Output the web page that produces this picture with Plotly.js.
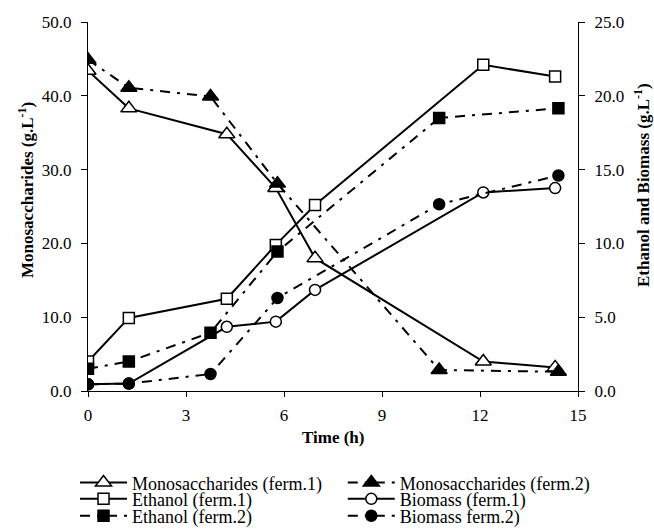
<!DOCTYPE html>
<html>
<head>
<meta charset="utf-8">
<script src="https://cdn.plot.ly/plotly-3.0.1.min.js"></script>
<style>html,body{margin:0;padding:0;background:#fff;}#chart{width:654px;height:532px;}</style>
</head>
<body>
<div id="chart"></div>
<script>
// Time points (h)
var timeFerm1 = [0, 1.25, 4.25, 5.75, 6.95, 12.1, 14.3];
var timeFerm2 = [0, 1.25, 3.75, 5.8, 10.75, 14.4];
// Monosaccharides (g/L, left axis)
var monoFerm1 = [43.4, 38.3, 34.8, 27.5, 18.0, 4.0, 3.2];
var monoFerm2 = [44.9, 41.1, 39.9, 28.1, 2.85, 2.6];
// Ethanol (g/L, right axis)
var ethFerm1 = [2.0, 4.95, 6.25, 9.9, 12.6, 22.1, 21.3];
var ethFerm2 = [1.5, 2.0, 3.95, 9.45, 18.5, 19.15];
// Biomass (g/L, right axis)
var bioFerm1 = [0.45, 0.5, 4.35, 4.7, 6.85, 13.45, 13.75];
var bioFerm2 = [0.45, 0.5, 1.15, 6.3, 12.65, 14.6];
// Ticks
var xTicks = [0, 3, 6, 9, 12, 15];
var yLeftTicks = [0, 10, 20, 30, 40, 50];
var yRightTicks = [0, 5, 10, 15, 20, 25];

var FONT = "Liberation Serif";
var DASHDOT = "10px,7px,3px,7px";

function tr(name, x, y, axis, symbol, filled, dash, legend) {
  return {
    type: "scatter", mode: "lines+markers", name: name,
    x: x, y: y, yaxis: axis, legend: legend,
    line: {color: "#000", width: 2, dash: dash},
    marker: {
      symbol: symbol,
      size: symbol === "triangle-up" ? 14 : 11,
      color: filled ? "#000" : "#fff",
      line: {color: "#000", width: 1.5}
    }
  };
}

var data = [
  tr("Monosaccharides (ferm.1)", timeFerm1, monoFerm1, "y", "triangle-up", false, "solid", "legend"),
  tr("Monosaccharides (ferm.2)", timeFerm2, monoFerm2, "y", "triangle-up", true, DASHDOT, "legend2"),
  tr("Ethanol (ferm.1)", timeFerm1, ethFerm1, "y2", "square", false, "solid", "legend3"),
  tr("Biomass (ferm.1)", timeFerm1, bioFerm1, "y2", "circle", false, "solid", "legend4"),
  tr("Ethanol (ferm.2)", timeFerm2, ethFerm2, "y2", "square", true, DASHDOT, "legend5"),
  tr("Biomass ferm.2)", timeFerm2, bioFerm2, "y2", "circle", true, DASHDOT, "legend6")
];

function leg(x, y) {
  return {x: x, y: y, xanchor: "left", yanchor: "middle", bgcolor: "rgba(0,0,0,0)",
    borderwidth: 0, itemwidth: 47, font: {family: FONT, size: 18, color: "#000"}};
}
var c1 = -0.0265, c2 = 0.52;
var r1 = -0.249, r2 = -0.293, r3 = -0.339;

var axFont = {family: FONT, size: 17, color: "#000"};
var layout = {
  width: 654, height: 532,
  margin: {l: 88, r: 76, t: 22, b: 141, autoexpand: false},
  paper_bgcolor: "#fff", plot_bgcolor: "#fff",
  font: {family: FONT, color: "#000"},
  showlegend: true,
  xaxis: {range: [0, 15], tickvals: xTicks, ticktext: xTicks.map(String),
    showline: true, linecolor: "#000", linewidth: 1, ticks: "outside", ticklen: 5,
    tickcolor: "#000", showgrid: false, zeroline: false, tickfont: axFont, ticklabelstandoff: 4},
  yaxis: {range: [0, 50], tickvals: yLeftTicks, ticktext: yLeftTicks.map(function(v){return v.toFixed(1);}),
    showline: true, linecolor: "#000", linewidth: 1, ticks: "outside", ticklen: 6,
    tickcolor: "#000", showgrid: false, zeroline: false, tickfont: axFont, ticklabelstandoff: 6},
  yaxis2: {range: [0, 25], overlaying: "y", side: "right", tickvals: yRightTicks,
    ticktext: yRightTicks.map(function(v){return v.toFixed(1);}),
    showline: true, linecolor: "#000", linewidth: 1, ticks: "outside", ticklen: 6,
    tickcolor: "#000", showgrid: false, zeroline: false, tickfont: axFont, ticklabelstandoff: 6},
  legend: leg(c1, r1), legend2: leg(c2, r1),
  legend3: leg(c1, r2), legend4: leg(c2, r2),
  legend5: leg(c1, r3), legend6: leg(c2, r3),
  annotations: [
    {text: "<b>Time (h)</b>", xref: "paper", yref: "paper", x: (333 - 88) / 490, y: (391 - 437) / 369,
      xanchor: "center", yanchor: "middle", showarrow: false, font: {family: FONT, size: 17, color: "#000"}},
    {text: "<b>Monosaccharides (g.L<sup>-1</sup>)</b>", xref: "paper", yref: "paper",
      x: (26 - 88) / 490, y: (391 - 190) / 369, xanchor: "center", yanchor: "middle", textangle: -90,
      showarrow: false, font: {family: FONT, size: 17, color: "#000"}},
    {text: "<b>Ethanol and Biomass (g.L<sup>-1</sup>)</b>", xref: "paper", yref: "paper",
      x: (642 - 88) / 490, y: (391 - 185) / 369, xanchor: "center", yanchor: "middle", textangle: -90,
      showarrow: false, font: {family: FONT, size: 17, color: "#000"}}
  ]
};

Plotly.newPlot("chart", data, layout, {displayModeBar: false, staticPlot: true});
</script>
</body>
</html>
